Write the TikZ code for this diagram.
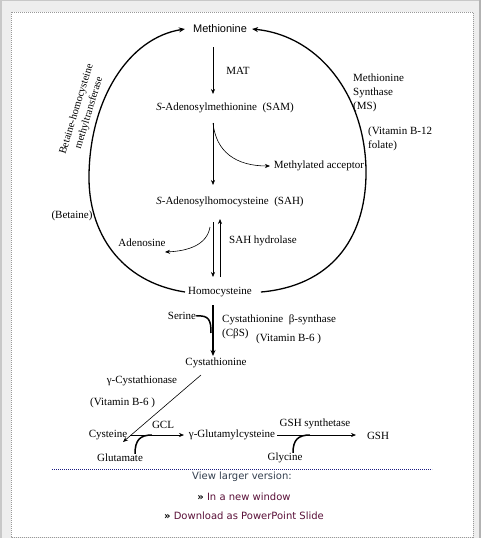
\documentclass[tikz,border=0pt]{standalone}
\usepackage{fontspec}
\setmainfont{Liberation Serif}
\newfontfamily\arialf{Liberation Sans}
\newfontfamily\verdf{DejaVu Sans}
\usetikzlibrary{arrows.meta,calc}
\definecolor{bgray}{HTML}{EEEEEE}
\definecolor{edgegray}{HTML}{C8C8C8}
\definecolor{dotgray}{HTML}{999999}
\definecolor{navy}{HTML}{1A1A80}
\definecolor{viewc}{HTML}{34404F}
\definecolor{linkc}{HTML}{5A1038}
\begin{document}
\begin{tikzpicture}[x=1pt,y=-1pt,
  lbl/.style={inner sep=0pt,font=\fontsize{11}{13}\selectfont},
  lblw/.style={lbl,anchor=west},
  arr/.style={-{Stealth[length=5pt,width=4pt]},line width=0.6pt},
  arcarr/.style={-{Stealth[length=6pt,width=5pt]},line width=1.3pt},
  thickarr/.style={-{Stealth[length=6pt,width=5pt]},line width=1.2pt},
  hook/.style={line width=1.5pt},
  weblbl/.style={inner sep=0pt,font=\verdf\fontsize{10}{12}\selectfont}]
\useasboundingbox (0,0) rectangle (481,538);
% frame
\fill[bgray] (0,0) rectangle (481,538);
\fill[edgegray] (0,0) rectangle (1.5,538);
\fill[edgegray] (0,0) rectangle (481,1.2);
\fill[black!30] (478.5,0) rectangle (481,538);
\fill[white] (11,12) rectangle (473,537);
\draw[dotgray,line width=1pt,dash pattern=on 1pt off 1pt] (11,12) rectangle (473,537);

% nodes
\node[lbl,font=\arialf\fontsize{11}{13}\selectfont] (met) at (220,29) {Methionine};
\node[lbl] (mat) at (238,71) {MAT};
\node[lbl] (sam) at (225,108) {\textit{S}-Adenosylmethionine\ \ (SAM)};
\node[lbl] (meacc) at (319,166) {Methylated acceptor};
\node[lbl] (sah) at (230,202) {\textit{S}-Adenosylhomocysteine\ \ (SAH)};
\node[lbl] (ado) at (142,243) {Adenosine};
\node[lbl] (sahh) at (263,241) {SAH hydrolase};
\node[lbl] (bet) at (72,216) {(Betaine)};
\node[lbl,align=center,rotate=73,font=\fontsize{10.5}{13}\selectfont] (bhmt) at (83,111) {Betaine-homocysteine\\methyltransferase};
\node[lbl,align=left,anchor=north west,font=\fontsize{11}{14}\selectfont] (ms) at (353,74) {Methionine\\Synthase\\(MS)};
\node[lbl,align=left,anchor=north west,font=\fontsize{11}{14}\selectfont] (b12) at (368,127) {(Vitamin B-12\\folate)};
\node[lbl] (hcy) at (220,292) {Homocysteine};
\node[lbl] (ser) at (182,316) {Serine};
\node[lblw] (cbs) at (222,320) {Cystathionine\ \ β-synthase};
\node[lblw] (cbsab) at (222,334) {(CβS)};
\node[lblw] (vbsa) at (256,339) {(Vitamin B-6 )};
\node[lbl] (cth) at (216,363) {Cystathionine};
\node[lbl] (gcth) at (142,381) {γ-Cystathionase};
\node[lblw] (vbsb) at (90,403) {(Vitamin B-6 )};
\node[lbl] (cys) at (108,435) {Cysteine};
\node[lbl] (gcl) at (163,425) {GCL};
\node[lbl] (gglu) at (232,435) {γ-Glutamylcysteine};
\node[lbl] (gshs) at (315,424) {GSH synthetase};
\node[lbl] (gsh) at (378,436) {GSH};
\node[lbl] (glu) at (120,458) {Glutamate};
\node[lbl] (gly) at (285,458) {Glycine};
\node[weblbl,text=viewc] (view) at (242,477) {View larger version:};
\node[weblbl,text=linkc] (lnka) at (244,497) {\textcolor{black}{\textbf{»}} In a new window};
\node[weblbl,text=linkc] (lnkb) at (244,516) {\textcolor{black}{\textbf{»}} Download as PowerPoint Slide};

% connector end points
\coordinate (m1) at (213,47);
\coordinate (m2) at (213,94);
\coordinate (s1) at (213,123);
\coordinate (s2) at (213,185);
\coordinate (acc) at (270,166);
\coordinate (h1) at (213,222);
\coordinate (h2) at (213,277);
\coordinate (h3) at (220,277);
\coordinate (h4) at (220,219);
\coordinate (h5) at (210,227);
\coordinate (adoin) at (165,252);
\coordinate (c1) at (213,305);
\coordinate (c2) at (213,356);
\coordinate (serin) at (211,333);
\coordinate (d1) at (201,375);
\coordinate (d2) at (123,442);
\coordinate (g1) at (130,435);
\coordinate (g2) at (184,435);
\coordinate (gluin) at (152,435);
\coordinate (k1) at (277,435);
\coordinate (k2) at (356,435);
\coordinate (glyin) at (310,435);

% cycle arcs
\draw[arcarr] ([xshift=-3pt]hcy.west) .. controls (120,282) and (88,232) .. (89,175)
   .. controls (90,100) and (128,38) .. ([xshift=-8pt]met.west);
\draw[arcarr] ([xshift=9pt]hcy.east) .. controls (330,286) and (365,240) .. (366,175)
   .. controls (367,100) and (322,36) .. ([xshift=5pt]met.east);

% straight & curved arrows
\draw[arr] (m1) -- (m2);
\draw[arr] (s1) -- (s2);
\draw[arr] (s1) .. controls (216,152) and (236,166) .. (acc);
\draw[arr] (h1) -- (h2);
\draw[arr] (h3) -- (h4);
\draw[arr] (h5) .. controls (207,245) and (188,251) .. (adoin);
\draw[thickarr] (c1) -- (c2);
\draw[hook] (ser.east) .. controls (209,315) and (211,320) .. (serin);
\draw[arr] (d1) -- (d2);
\draw[arr] (g1) -- (g2);
\draw[hook] ([xshift=15pt]glu.north) .. controls (135,440) and (140,435) .. (gluin);
\draw[arr] (k1) -- (k2);
\draw[hook] ([xshift=8pt]gly.north) .. controls (293,440) and (298,435) .. (glyin);

% separator
\draw[navy,line width=0.8pt,dash pattern=on 0.8pt off 1.2pt] (52,469) -- (432,469);
\end{tikzpicture}
\end{document}
